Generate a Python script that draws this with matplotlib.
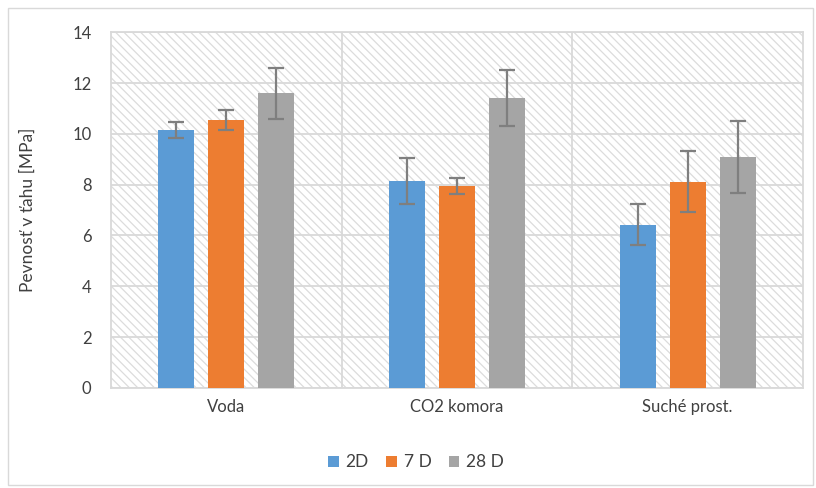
import matplotlib.pyplot as plt
import numpy as np
from matplotlib.patches import Rectangle

plt.rcParams['font.family'] = ['Lato', 'DejaVu Sans']
plt.rcParams['hatch.linewidth'] = 0.9

# Tensile strength by curing environment and age
categories = ['Voda', 'CO2 komora', 'Suché prost.']
series = ['2D', '7 D', '28 D']
values_2d = [10.15, 8.15, 6.42]
values_7d = [10.54, 7.95, 8.12]
values_28d = [11.60, 11.42, 9.09]
err_2d = [0.30, 0.90, 0.80]
err_7d = [0.40, 0.30, 1.20]
err_28d = [1.00, 1.10, 1.40]

colors = ['#5B9BD5', '#ED7D31', '#A5A5A5']
grid_color = '#d9d9d9'

fig = plt.figure(figsize=(8.16, 4.88), dpi=100)
ax = fig.add_axes([0.136, 0.205, 0.848, 0.729])

# chart border
fig.patches.append(Rectangle((8 / 816, 3 / 488), 805 / 816, 477 / 488,
                             transform=fig.transFigure, fill=False,
                             edgecolor=grid_color, linewidth=1.0))

# hatched plot area
ax.add_patch(Rectangle((0, 0), 1, 1, transform=ax.transAxes, facecolor='white',
                       edgecolor='#dcdcdc', hatch='\\\\\\\\', linewidth=0, zorder=0))

x = np.arange(len(categories))
width = 0.156
offset = 0.217
for i, (vals, errs) in enumerate([(values_2d, err_2d), (values_7d, err_7d), (values_28d, err_28d)]):
    ax.bar(x + (i - 1) * offset, vals, width, color=colors[i], label=series[i], zorder=3,
           yerr=errs, error_kw=dict(ecolor='#7f7f7f', elinewidth=1.6, capsize=6, capthick=1.6, zorder=4))

ax.set_xlim(-0.5, 2.5)
ax.set_ylim(0, 14)
ax.set_yticks(range(0, 15, 2))
ax.yaxis.grid(True, color=grid_color, linewidth=1.3, zorder=1)
ax.set_axisbelow(True)
for b in [0.5, 1.5]:
    ax.axvline(b, color=grid_color, linewidth=1.3, zorder=1)
for s in ax.spines.values():
    s.set_color(grid_color)
    s.set_linewidth(1.3)

ax.set_xticks(x)
ax.set_xticklabels(categories)
ax.tick_params(axis='both', length=0, labelsize=12, colors='#404040', pad=8)
ax.tick_params(axis='y', pad=14)
ax.set_ylabel('Pevnosť v ťahu [MPa]', fontsize=12.5, color='#404040', labelpad=26)

leg = fig.legend(loc='center', bbox_to_anchor=(0.51, 0.053), ncol=3, frameon=False,
                 fontsize=12.5, handlelength=0.6, handleheight=0.6, columnspacing=1.0,
                 handletextpad=0.4)
for t in leg.get_texts():
    t.set_color('#404040')

plt.savefig('out.png', dpi=100)
